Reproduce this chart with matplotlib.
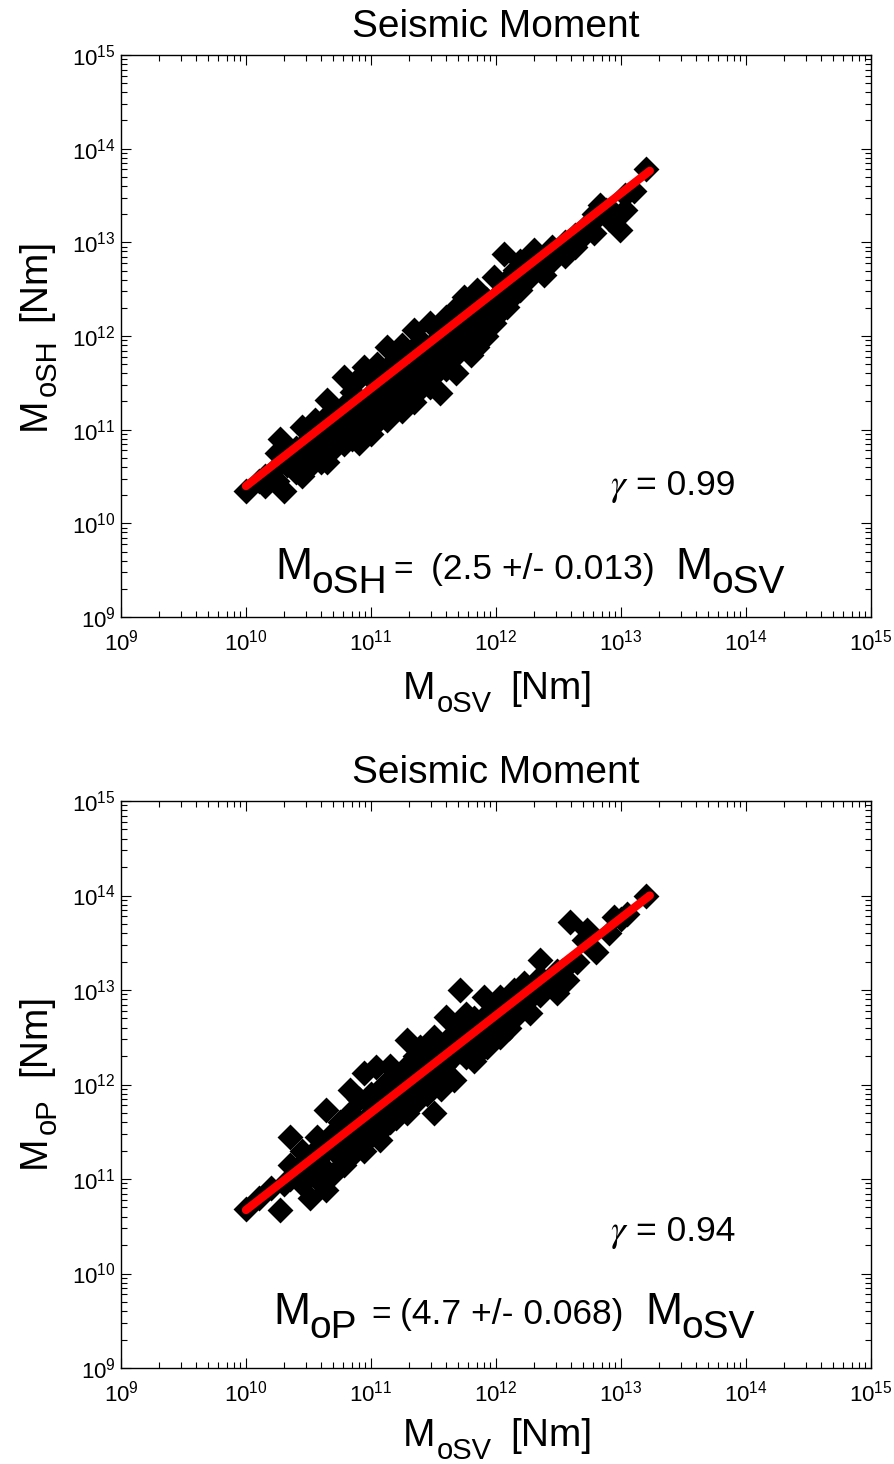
import numpy as np
import matplotlib
matplotlib.use("Agg")
import matplotlib.pyplot as plt
from matplotlib.ticker import LogLocator, NullFormatter

plt.rcParams["font.family"] = ["Liberation Sans", "DejaVu Sans"]
plt.rcParams["mathtext.fontset"] = "custom"
plt.rcParams["mathtext.rm"] = "Liberation Sans"
plt.rcParams["mathtext.it"] = "Liberation Sans:italic"

W, H = 894, 1464

# log10 values (log-log axes)
top_log_sv = [10.0, 10.15, 10.15, 10.25, 10.25, 10.25, 10.27, 10.3, 10.4, 10.4, 10.4,
              10.45, 10.45, 10.5, 10.5, 10.5, 10.55, 10.55, 10.6, 10.6, 10.6,
              10.65, 10.65, 10.65, 10.65, 10.7, 10.7, 10.7, 10.78, 10.78, 10.78, 10.78,
              10.85, 10.85, 10.85, 10.9, 10.9, 10.9, 10.9, 10.94, 10.94,
              11.0, 11.0, 11.0, 11.0, 11.05, 11.05, 11.05, 11.13, 11.13, 11.13, 11.13,
              11.2, 11.2, 11.2, 11.25, 11.25, 11.25, 11.25, 11.34, 11.34, 11.34, 11.34,
              11.4, 11.4, 11.4, 11.47, 11.47, 11.47, 11.47, 11.55, 11.55, 11.55,
              11.6, 11.6, 11.6, 11.68, 11.68, 11.68, 11.68, 11.74, 11.74, 11.74,
              11.8, 11.8, 11.8, 11.85, 11.85, 11.85, 11.92, 11.92, 11.92,
              11.98, 11.98, 11.98, 12.06, 12.06, 12.06, 12.09, 12.09, 12.15, 12.15,
              12.19, 12.19, 12.25, 12.25, 12.3, 12.3, 12.38, 12.38, 12.45, 12.45,
              12.55, 12.55, 12.63, 12.63, 12.7, 12.78, 12.78, 12.83, 12.9, 12.99,
              13.03, 13.03, 13.2,
              10.1, 10.2, 10.33, 10.38, 10.48, 10.53, 10.58, 10.63, 10.68, 10.73,
              10.75, 10.82, 10.88, 10.92, 10.97, 11.02, 11.07, 11.1, 11.16, 11.18,
              11.22, 11.28, 11.3, 11.37, 11.43, 11.45, 11.52, 11.58, 11.63, 11.65,
              11.71, 11.77, 11.83, 11.88, 11.95, 12.0, 12.03, 12.12, 12.2, 12.28,
              12.35, 12.42, 12.5, 12.58, 12.68, 12.75, 12.88, 12.95, 13.1]
top_log_sh = [10.35, 10.5, 10.4, 10.45, 10.75, 10.6, 10.9, 10.35, 10.55, 10.8, 10.65,
              11.03, 10.5, 10.9, 10.7, 10.6, 11.1, 10.8, 11.0, 10.75, 10.65,
              11.32, 11.15, 10.9, 10.65, 11.2, 10.95, 10.8, 11.56, 11.25, 11.0, 10.85,
              11.4, 11.15, 10.9, 11.55, 11.3, 11.05, 10.86, 11.67, 11.2,
              11.55, 11.35, 11.15, 10.95, 11.7, 11.45, 11.2, 11.88, 11.6, 11.35, 11.1,
              11.75, 11.5, 11.25, 11.9, 11.65, 11.4, 11.2, 12.06, 11.8, 11.55, 11.3,
              11.95, 11.7, 11.45, 12.14, 11.85, 11.6, 11.46, 12.0, 11.75, 11.39,
              12.2, 11.95, 11.65, 12.3, 12.05, 11.8, 11.6, 12.42, 12.15, 11.9,
              12.3, 12.05, 11.8, 12.49, 12.2, 11.88, 12.4, 12.15, 12.0,
              12.63, 12.4, 12.14, 12.88, 12.5, 12.3, 12.6, 12.31, 12.7, 12.45,
              12.8, 12.49, 12.75, 12.6, 12.92, 12.7, 12.85, 12.65, 12.95, 12.8,
              13.0, 12.85, 13.08, 12.95, 13.15, 13.3, 13.1, 13.4, 13.25, 13.13,
              13.5, 13.35, 13.78,
              10.45, 10.5, 10.62, 10.7, 10.78, 10.68, 10.9, 10.85, 11.05, 10.9,
              11.1, 11.05, 11.2, 11.0, 11.25, 11.05, 11.3, 11.45, 11.25, 11.5,
              11.35, 11.55, 11.4, 11.6, 11.55, 11.75, 11.6, 11.85, 11.75, 11.95,
              11.85, 12.0, 12.05, 12.3, 12.25, 12.3, 12.45, 12.55, 12.6, 12.65,
              12.75, 12.85, 12.9, 12.95, 13.05, 13.2, 13.35, 13.3, 13.55]

bot_log_sv = [10.0, 10.27, 10.35, 10.35, 10.35, 10.45, 10.45, 10.45, 10.51,
              10.57, 10.57, 10.57, 10.64, 10.64, 10.64, 10.64, 10.7, 10.7, 10.7,
              10.78, 10.78, 10.78, 10.83, 10.83, 10.83, 10.83, 10.9, 10.9, 10.9,
              10.94, 10.94, 10.94, 11.0, 11.0, 11.0, 11.0, 11.04, 11.07,
              11.1, 11.1, 11.1, 11.15, 11.15, 11.15, 11.2, 11.2, 11.2,
              11.29, 11.29, 11.29, 11.29, 11.35, 11.35, 11.35, 11.39, 11.39, 11.39,
              11.45, 11.45, 11.45, 11.5, 11.5, 11.5, 11.5, 11.56, 11.56, 11.56,
              11.6, 11.6, 11.6, 11.66, 11.66, 11.66, 11.71, 11.71, 11.71,
              11.76, 11.76, 11.76, 11.82, 11.82, 11.82, 11.9, 11.9, 11.9, 11.93, 11.93,
              12.03, 12.03, 12.03, 12.1, 12.1, 12.14, 12.14, 12.22, 12.22, 12.27, 12.27,
              12.35, 12.35, 12.35, 12.42, 12.49, 12.49, 12.57, 12.59, 12.7, 12.73,
              12.8, 12.94, 13.0, 13.2,
              10.1, 10.2, 10.3, 10.4, 10.48, 10.55, 10.6, 10.67, 10.72, 10.75,
              10.8, 10.86, 10.88, 10.97, 10.98, 11.03, 11.06, 11.12, 11.13, 11.18,
              11.24, 11.25, 11.32, 11.33, 11.42, 11.43, 11.48, 11.53, 11.58, 11.63,
              11.68, 11.73, 11.8, 11.85, 11.96, 12.0, 12.06, 12.18, 12.25, 12.3,
              12.45, 12.53, 12.65, 12.9, 13.05]
bot_log_p = [10.68, 10.67, 11.44, 11.0, 11.15, 11.1, 11.3, 10.95, 10.8,
             11.44, 11.2, 11.0, 10.88, 11.73, 11.35, 11.1, 11.06, 11.5, 11.3,
             11.55, 11.3, 11.15, 11.94, 11.23, 11.7, 11.45, 11.85, 11.6, 11.35,
             12.12, 11.5, 11.3, 11.9, 11.7, 11.5, 11.45, 12.19, 11.41,
             12.0, 11.75, 11.55, 12.2, 11.9, 11.6, 12.05, 11.8, 11.65,
             12.47, 12.2, 11.95, 11.7, 12.3, 12.05, 11.8, 12.4, 12.15, 11.9,
             12.35, 12.1, 11.9, 12.5, 12.25, 11.7, 12.0, 12.4, 12.15, 11.95,
             12.71, 12.3, 12.05, 12.55, 12.05, 12.3, 13.0, 12.6, 12.35,
             12.29, 12.55, 12.75, 12.7, 12.45, 12.25, 12.93, 12.6, 12.4, 12.4, 12.75,
             12.93, 12.7, 12.5, 12.85, 12.6, 13.0, 12.7, 13.07, 12.85, 12.76, 13.0,
             13.32, 13.14, 12.95, 13.05, 12.97, 13.2, 13.11, 13.72, 13.53, 13.64,
             13.4, 13.77, 13.75, 14.0,
             10.8, 10.9, 10.95, 11.05, 11.2, 11.3, 11.25, 11.4, 11.35, 11.6,
             11.4, 11.6, 11.45, 11.65, 11.8, 11.6, 11.85, 11.7, 11.95, 11.85,
             11.9, 12.1, 12.0, 12.2, 12.05, 12.25, 12.15, 12.3, 12.2, 12.45,
             12.4, 12.45, 12.5, 12.6, 12.65, 12.8, 12.75, 12.85, 12.9, 13.05,
             13.1, 13.2, 13.3, 13.6, 13.8]

# fitted lines, end points as drawn
top_fit_sv = [1.0e10, 1.7e13]
top_fit_sh = [2.5e10, 5.8e13]
bot_fit_sv = [1.0e10, 1.7e13]
bot_fit_p = [4.7e10, 1.0e14]

panels = [
    dict(rect=[121 / W, 1 - 617 / H, 750 / W, 562 / H],
         x=top_log_sv, y=top_log_sh, fx=top_fit_sv, fy=top_fit_sh),
    dict(rect=[121 / W, 1 - 1368 / H, 750 / W, 567 / H],
         x=bot_log_sv, y=bot_log_p, fx=bot_fit_sv, fy=bot_fit_p),
]

fig = plt.figure(figsize=(W / 100, H / 100), dpi=100)


def put(px, py, s, size, rot=0, **kw):
    # text placed by pixel position of its left baseline
    fig.text(px / W, 1 - py / H, s, fontsize=size, ha="left", va="baseline",
             rotation=rot, rotation_mode="anchor", **kw)


for p in panels:
    ax = fig.add_axes(p["rect"])
    ax.set_xscale("log")
    ax.set_yscale("log")
    ax.plot(10 ** np.array(p["x"]), 10 ** np.array(p["y"]), "D", color="black",
            ms=11, mew=2, mec="black", linestyle="none", zorder=2)
    ax.plot(p["fx"], p["fy"], color="red", lw=6, solid_capstyle="round", zorder=3)
    ax.set_xlim(1e9, 1e15)
    ax.set_ylim(1e9, 1e15)
    for axis in (ax.xaxis, ax.yaxis):
        axis.set_major_locator(LogLocator(base=10, numticks=10))
        axis.set_minor_locator(LogLocator(base=10, subs=np.arange(2, 10), numticks=10))
        axis.set_minor_formatter(NullFormatter())
    ax.tick_params(which="both", direction="in", top=True, right=True, labelsize=16)
    ax.tick_params(which="major", length=7, width=0.8)
    ax.tick_params(which="minor", length=4, width=0.8)
    ax.tick_params(axis="x", pad=9)
    ax.tick_params(axis="y", pad=4)
    ax.set_title("Seismic Moment", fontsize=28, pad=13)
    for s in ax.spines.values():
        s.set_linewidth(1.0)

# axis labels with dropped subscripts
for dy in (0, 747):
    put(403, 699 + dy, "M", 28)
    put(437, 712 + dy, "oSV", 21)
    put(510, 699 + dy, "[Nm]", 28)
ylab_top = [(45, 430, "M", 28), (56, 396, "oSH", 21), (45, 321, "[Nm]", 28)]
ylab_bot = [(45, 1168, "M", 28), (56, 1134, "oP", 21), (45, 1076, "[Nm]", 28)]
for px, py, s, size in ylab_top + ylab_bot:
    put(px, py, s, size, rot=90)

# correlation and fit equation, top panel
put(610, 495, r"$\gamma$", 27, math_fontfamily="stix")
put(636, 495, "= 0.99", 25.5)
put(275, 579, "M", 32)
put(311, 593, "oSH", 28)
put(393, 579, "=", 24)
put(431, 579, "(2.5 +/- 0.013)", 25.5)
put(675, 579, "M", 32)
put(711, 593, "oSV", 28)

# bottom panel
put(610, 1241, r"$\gamma$", 27, math_fontfamily="stix")
put(636, 1241, "= 0.94", 25.5)
put(273, 1324, "M", 32)
put(309, 1338, "oP", 28)
put(371, 1324, "=", 24)
put(400, 1324, "(4.7 +/- 0.068)", 25.5)
put(645, 1324, "M", 32)
put(681, 1338, "oSV", 28)

fig.savefig("out.png", dpi=100)
